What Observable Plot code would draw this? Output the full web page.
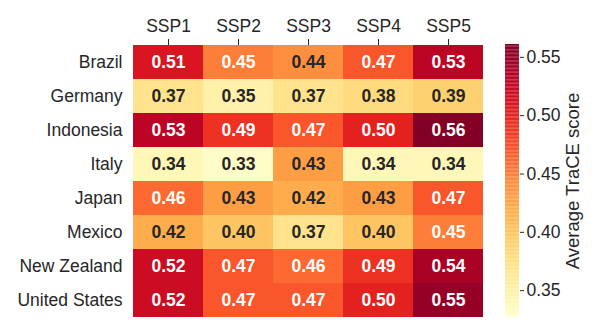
<!DOCTYPE html>
<html>
<head>
<meta charset="utf-8">
<script src="https://cdn.jsdelivr.net/npm/d3@7"></script>
<script src="https://cdn.jsdelivr.net/npm/@observablehq/plot@0.6"></script>
<style>
  body { margin: 0; background: #fff; }
  #wrap { position: relative; width: 598px; height: 336px; }
  #wrap svg { position: absolute; left: 0; top: 0; }
</style>
</head>
<body>
<div id="wrap"></div>
<script>
const scenarios = ["SSP1", "SSP2", "SSP3", "SSP4", "SSP5"];
const countries = ["Brazil", "Germany", "Indonesia", "Italy", "Japan", "Mexico", "New Zealand", "United States"];
const brazil       = [0.51, 0.45, 0.44, 0.47, 0.53];
const germany      = [0.37, 0.35, 0.37, 0.38, 0.39];
const indonesia    = [0.53, 0.49, 0.47, 0.50, 0.56];
const italy        = [0.34, 0.33, 0.43, 0.34, 0.34];
const japan        = [0.46, 0.43, 0.42, 0.43, 0.47];
const mexico       = [0.42, 0.40, 0.37, 0.40, 0.45];
const newZealand   = [0.52, 0.47, 0.46, 0.49, 0.54];
const unitedStates = [0.52, 0.47, 0.47, 0.50, 0.55];
const colorbarTicks = [0.35, 0.40, 0.45, 0.50, 0.55];
const colorbarLabel = "Average TraCE score";
const colorDomain = [0.327, 0.561];

const rows = [brazil, germany, indonesia, italy, japan, mexico, newZealand, unitedStates];
const data = [];
countries.forEach((c, i) => scenarios.forEach((s, j) => data.push({country: c, ssp: s, value: rows[i][j]})));

const font = "'Liberation Sans', Arial, sans-serif";
const color = {type: "linear", scheme: "YlOrRd", domain: colorDomain};

const main = Plot.plot({
  width: 598, height: 336,
  marginLeft: 133, marginRight: 115, marginTop: 44, marginBottom: 19,
  style: {fontFamily: font, fontSize: "17.5px", color: "#262626", background: "transparent"},
  x: {domain: scenarios, padding: 0, label: null},
  y: {domain: countries, padding: 0, label: null},
  color,
  marks: [
    Plot.cell(data, {x: "ssp", y: "country", fill: "value"}),
    Plot.text(data, {x: "ssp", y: "country", text: d => d.value.toFixed(2),
      fill: d => d.value >= 0.445 ? "white" : "#262626",
      fontWeight: "bold", fontSize: 17.5}),
    Plot.axisX({anchor: "top", tickSize: 6, tickPadding: 7, fontSize: 17.5, label: null}),
    Plot.axisY({anchor: "left", tickSize: 0, tickPadding: 11, fontSize: 17.5, label: null})
  ]
});

const step = (colorDomain[1] - colorDomain[0]) / 200;
const steps = d3.range(colorDomain[0], colorDomain[1], step);
const bar = Plot.plot({
  width: 598, height: 336,
  marginLeft: 505, marginRight: 79, marginTop: 44, marginBottom: 19,
  style: {fontFamily: font, fontSize: "17.5px", color: "#262626", background: "transparent"},
  y: {domain: colorDomain, label: null},
  color,
  marks: [
    Plot.rect(steps, {y1: d => d, y2: d => Math.min(d + step * 1.05, colorDomain[1]), fill: d => d + step / 2}),
    Plot.axisY({anchor: "right", ticks: colorbarTicks, tickFormat: ".2f", tickSize: 4, tickPadding: 3, fontSize: 17.5, label: null}),
    Plot.text([colorbarLabel], {frameAnchor: "right", dx: 54, rotate: -90, textAnchor: "middle", lineAnchor: "middle",
      fontSize: 18.5, fill: "#262626"})
  ]
});

const wrap = document.getElementById("wrap");
wrap.appendChild(main);
wrap.appendChild(bar);
</script>
</body>
</html>
